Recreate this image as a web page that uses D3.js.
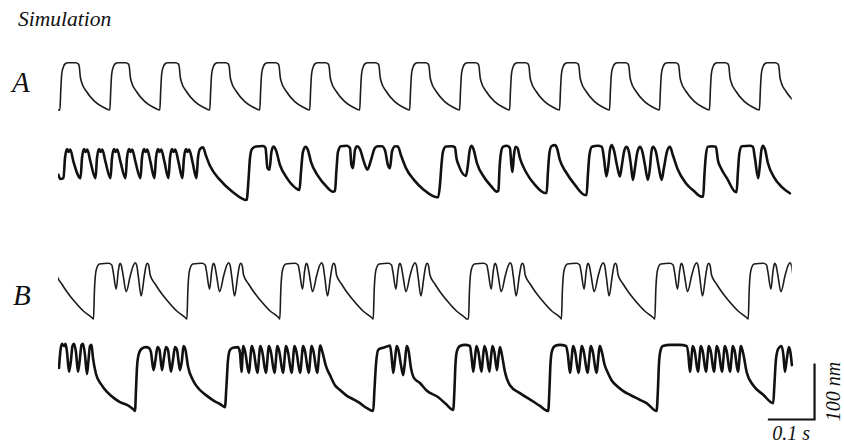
<!DOCTYPE html>
<html>
<head>
<meta charset="utf-8">
<script src="https://cdn.jsdelivr.net/npm/d3@7/dist/d3.min.js"></script>
<style>
  body { margin: 0; background: #fff; }
  svg { display: block; }
  text { font-family: "Liberation Serif", "Times New Roman", serif; font-style: italic; fill: #111; }
</style>
</head>
<body>
<svg id="chart" width="844" height="446"></svg>
<script>
// ---- Data: time in ms, hair-bundle displacement in nm ----

// A, simulation: one pulse shape [ms after onset, nm] repeated at each onset
const simAShape = [[0,0],[2,36],[4,64],[7.5,77],[12,83],[17,84.5],[34,84.5],[40,82],[42,75],[43.5,61],[46,51],[57,33],[75,15],[93,5],[107,0]];
const simAOnsets = [4,111,218,325,432,539,646,753,860,967,1074,1181,1288,1395,1502];
const simAEnd = 1567;

// A, recording
const recA = [
  [1,45],[5,37.5],
  [11.8,39],[15,75],[19.3,91],[22.7,86],[26.2,90],[33.2,68],
  [48.2,39],[51.4,75],[55.7,91],[59.1,86],[62.6,90],[69.6,68],
  [80.3,39],[83.5,75],[87.8,91],[91.2,86],[94.7,90],[101.7,68],
  [112.4,39],[115.6,75],[119.9,91],[123.3,86],[126.8,90],[133.8,68],
  [144.5,39],[147.7,75],[152,91],[155.4,86],[158.9,90],[165.9,68],
  [176.6,39],[179.8,75],[184.1,91],[187.5,86],[191,90],[198,68],
  [206.6,39],[209.8,75],[214.1,91],[217.5,86],[221,90],[228,68],
  [236.6,39],[239.8,75],[244.1,91],[247.5,86],[251,90],[258,68],
  [266.5,39],[269.7,75],[274,91],[277.4,86],[280.9,90],[288,68],
  [296.5,39],[299.7,75],[304,91],[310.4,94],[316.9,79],[325.4,61],[346.8,36],[374.7,14],[404,0],
  [407.9,36],[411.1,75],[415.4,91],[423.9,95.5],[438.9,96.4],[444.3,93],[448.5,57],[452.8,54],[457.1,86],[461.4,95.5],[466.7,89],[475.3,62.5],[490.3,39],[509.6,21],
  [517.1,18],[520.3,50],[524.5,86],[529.9,95],[535.3,89],[541.7,68],[556.7,43],[573.8,25],[588.8,15],
  [593.1,16],[596.3,54],[599.5,86],[605.9,96],[618.7,97],[625.2,93],[628.4,62.5],[631.6,57],[635.9,89],[640.2,96],[646.6,91],[655.1,68],[662.6,54],[670.1,71],[678.7,93],[685.1,96],[693.7,96],[700.1,89],[706.5,62.5],[710.8,57],[715.1,86],[721.5,96],[727.9,95.5],[734.4,80],[745.1,57],[762.2,36],[783.6,18],[811.4,5],
  [814.2,5],[817.9,27],[821.1,62.5],[824.3,86],[830.7,95.5],[843.6,96],[850,94],[853.2,75],[858.5,61],[873.5,43],[877.8,62.5],[881,86],[885.3,97],[889.6,91],[897.1,66],[912.1,41],[927.1,25],[939.9,15],
  [943.1,16],[945.3,54],[948.5,84],[952.7,95],[961.3,97],[967.7,93],[970.9,62.5],[973.1,50],[976.3,80],[979.5,95],[983.8,93],[989.1,75],[1002,50],[1021.3,27],[1042.7,12.5],
  [1046.3,12.5],[1049.1,50],[1052.3,84],[1056.6,96],[1064.1,98],[1068.4,93],[1074.8,71],[1087.6,50],[1106.9,27],[1128.3,9],
  [1131.9,9],[1134.7,45],[1137.9,80],[1143.3,95],[1156.1,97],[1164.7,95],[1169,75],[1174.3,42],[1178.6,62.5],[1181.8,89],[1185.5,98],[1190.4,89],[1196.8,62.5],[1203.2,42],[1207.5,62.5],[1212.9,89],[1217.6,95],[1222.5,86],[1226.8,62.5],[1231.1,36],[1235.4,57],[1240.7,86],[1246.1,95],[1251.4,86],[1256.8,62.5],[1263.2,36],[1267.5,57],[1270.7,86],[1273.9,95],[1280.3,86],[1286.7,57],[1292.5,36],[1297.4,57],[1303.9,86],[1310.3,95],[1316.7,80],[1327.4,54],[1344.5,30],[1361.7,16],[1378.2,6],
  [1381.6,6],[1384.2,45],[1387.4,80],[1391.7,95],[1400.2,96],[1408.8,95],[1413.1,71],[1419.5,57],[1432.3,39],[1449.5,15],
  [1453.1,14],[1455.9,50],[1459.1,84],[1464.4,96],[1481.6,97],[1488,95],[1492.3,75],[1499.3,39],[1503,62.5],[1506.2,89],[1509.4,97],[1513.7,91],[1520.1,66],[1533,41],[1550.1,23],[1567.2,12]
];

// B, simulation: one burst shape [ms after onset, nm] repeated at each onset
const simBShape = [[0,0],[2.1,51.8],[5.8,87.5],[12.8,98.2],[32.1,99.5],[39.2,96.4],[42,85],[48.6,53],
  [53,85],[55.6,97.5],[57.2,99.5],[59.5,96],[63.5,78],[70,48.8],
  [79,78],[85.5,96],[89.3,100.5],[92.5,96],[96,76],[102.1,41.1],
  [109,78],[113,96.5],[115.6,99.5],[118.5,95],[121.4,78.6],[132.1,62.5],[143.4,48.2],[156.9,33.9],[178.3,14.3],[196.3,2.7],[199.8,0]];
const simBOnsets = [-124,76,276,475,675,879,1078,1278,1478];
const simBEnd = 1567;

// B, recording
const recB = [
  [2.1,77],[5.4,109],[8.6,120],[12.8,116],[16.1,120],[19.3,105],[23.6,70],[27.8,91],[31,116],[34.3,120],[38.5,105],[42.8,70],[47.1,95],[50.3,118],[53.5,120],[57.8,100],[62.1,66],[65.3,91],[68.5,116],[71.7,118],[74.9,95],[81.4,66],[92.1,48],[104.9,34],[119.9,23],[132.7,16],[147.7,11],[162.7,2],
  [164.9,0],[167,37.5],[169.1,77],[172.4,100],[178.8,111],[188.4,114],[194.8,112.5],[199.1,105],[204.5,73],[208.7,91],[213,114],[217.3,109],[222.7,73],[226.9,95],[231.2,114],[235.5,109],[241.9,70],[246.2,91],[250.5,114],[254.8,109],[261.2,73],[265.5,91],[268.7,116],[273,109],[278.3,80],[289,55],[304,37.5],[319,27],[334,18],[346.8,12.5],[357.5,7],
  [360.8,46],[364,91],[368.3,109],[374.7,113],[385.4,114],[389.7,104],[392.9,70],[396.7,116],[401,105],[408.5,68],[415.1,116],[419.4,105],[426.9,68],[433.3,116],[437.6,105],[445.1,68],[451.8,116],[456,105],[463.5,68],[469.9,116],[474.2,105],[481.7,68],[488.4,116],[492.6,105],[500.1,68],[506.6,116],[510.8,105],[518.3,68],[525,116],[529.3,105],[536.7,68],[543.2,116],[547.4,105],[554.9,68],[561.6,117],[566.3,105],[573.8,80],[582.4,64],[593.1,46],[603.8,37.5],[618.7,27],[632.2,21],[646.6,14],[661.6,5],[675,0],
  [677.6,37.5],[680.8,82],[685.8,109],[693.7,112.5],[704.4,115],[710.8,117],[714,100],[717.9,68],[721.5,91],[725.2,116],[729,109],[734.4,82],[739.3,64],[742.9,87.5],[746.6,116],[750.4,109],[755.8,77],[762.2,59],[775,50],[790,36],[813.6,25],[830.7,12.5],[846.3,2],
  [848.9,37.5],[851,82],[854.3,107],[860.7,116],[871.4,118],[882.1,116],[885.3,98],[889.2,70],[892.8,95],[896,116],[900.3,105],[906.7,70],[909.9,95],[913.1,116],[917.4,105],[923.8,70],[927.1,95],[930.3,116],[934.5,105],[939.9,73],[943.1,96],[946.3,114],[950.6,100],[957,70],[967.7,46],[989.1,32],[1017.6,17],[1032,9],[1049.7,0],
  [1052.3,37.5],[1054.4,82],[1057.7,107],[1064.1,116],[1074.8,118],[1087.6,116],[1091.9,100],[1096.2,68],[1103.3,116],[1107.5,105],[1114.4,68],[1121.9,116],[1126.1,105],[1133.7,68],[1141.2,116],[1145.4,105],[1152.9,68],[1160.4,116],[1164.7,105],[1170,84],[1177.6,68],[1186.1,54],[1196.2,45],[1209.7,36],[1224.7,29],[1246.1,20],[1260.4,14],[1281.8,0],
  [1284.6,37.5],[1286.7,82],[1289.9,107],[1295.3,116],[1310.3,118],[1331.7,118],[1346,116],[1349.9,100],[1353.1,70],[1359.5,116],[1363.8,105],[1370.2,70],[1376.7,116],[1380.9,105],[1387.4,70],[1393.8,116],[1398.1,105],[1404.5,70],[1410.9,116],[1415.2,105],[1421.6,70],[1428.1,116],[1432.3,105],[1438.8,70],[1445.2,116],[1449.5,105],[1455.9,70],[1462.3,116],[1466.6,105],[1475.1,68],[1488.6,46],[1510.1,29],[1531.5,14],
  [1534,46],[1537.2,91],[1542.2,111],[1549.4,116],[1553.3,100],[1556.5,70],[1560.8,94],[1565.1,114],[1568.3,105],[1571.5,82]
];

// Scale bar values
const barTime = 100;   // ms  (0.1 s)
const barNm = 100;     // nm
const barStart = 1520; // ms, left end of the horizontal bar

// Panel text
const titleText = "Simulation";
const panelLabels = ["A", "B"];
const timeBarLabel = "0.1 s";
const nmBarLabel = "100 nm";

// ---- Drawing ----
const svg = d3.select("#chart");

const x = d3.scaleLinear().domain([0, 1600]).range([58, 58 + 747.2]);
const pxPerNm = 0.56;
const yFor = base => d3.scaleLinear().domain([0, 100]).range([base, base - 100 * pxPerNm]);

// repeat a shape at each onset, each copy ending where the next one starts
function repeatShape(shape, onsets, lead) {
  const pts = lead ? lead.slice() : [];
  onsets.forEach((t0, i) => {
    const next = i < onsets.length - 1 ? onsets[i + 1] : Infinity;
    shape.forEach(([dt, v]) => {
      const t = t0 + dt;
      if (t < next) pts.push([t, v]);
    });
  });
  return pts;
}

const traces = [
  { id: "simA", pts: repeatShape(simAShape, simAOnsets, [[0, 0]]), base: 110, end: simAEnd, w: 1.6, color: "#1c1c1c" },
  { id: "recA", pts: recA, base: 200, end: 1600, w: 2.6, color: "#111" },
  { id: "simB", pts: repeatShape(simBShape, simBOnsets), base: 319, end: simBEnd, w: 1.6, color: "#1c1c1c" },
  { id: "recB", pts: recB, base: 411, end: 1600, w: 2.6, color: "#111" }
];

const defs = svg.append("defs");

traces.forEach(tr => {
  const y = yFor(tr.base);
  defs.append("clipPath").attr("id", "clip-" + tr.id)
    .append("rect")
    .attr("x", x(0)).attr("y", y(140))
    .attr("width", x(tr.end) - x(0) + 2)
    .attr("height", y(-20) - y(140));

  const line = d3.line()
    .x(d => x(d[0]))
    .y(d => y(d[1]))
    .curve(d3.curveMonotoneX);

  svg.append("path")
    .datum(tr.pts)
    .attr("clip-path", "url(#clip-" + tr.id + ")")
    .attr("fill", "none")
    .attr("stroke", tr.color)
    .attr("stroke-width", tr.w)
    .attr("stroke-linejoin", "round")
    .attr("stroke-linecap", "round")
    .attr("d", line);
});

// labels
svg.append("text").attr("x", 18).attr("y", 26).attr("font-size", 21.5).text(titleText);
svg.append("text").attr("x", 12).attr("y", 92).attr("font-size", 29).text(panelLabels[0]);
svg.append("text").attr("x", 13).attr("y", 305).attr("font-size", 29).text(panelLabels[1]);

// scale bar
const barY = 419.5;
const yBar = d3.scaleLinear().domain([0, 100]).range([barY, barY - 100 * pxPerNm]);
const bx0 = x(barStart), bx1 = x(barStart + barTime);
svg.append("path")
  .attr("fill", "none")
  .attr("stroke", "#111")
  .attr("stroke-width", 2.2)
  .attr("d", `M${bx0},${barY}H${bx1}V${yBar(barNm)}`);

svg.append("text")
  .attr("x", (bx0 + bx1) / 2).attr("y", 440)
  .attr("text-anchor", "middle").attr("font-size", 20)
  .text(timeBarLabel);

svg.append("text")
  .attr("transform", `translate(840,${(barY + yBar(barNm)) / 2}) rotate(-90)`)
  .attr("text-anchor", "middle").attr("font-size", 20)
  .text(nmBarLabel);
</script>
</body>
</html>
